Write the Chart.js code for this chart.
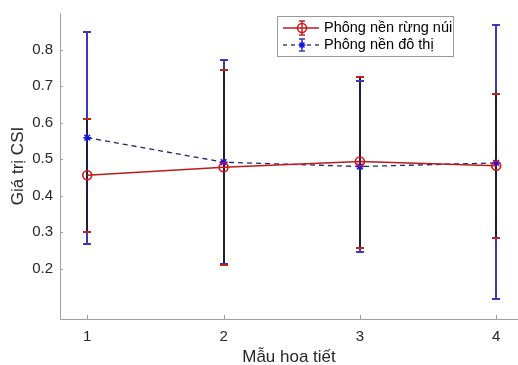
<!DOCTYPE html>
<html><head><meta charset="utf-8">
<script src="https://cdn.jsdelivr.net/npm/chart.js@4/dist/chart.umd.min.js"></script>
<style>html,body{margin:0;padding:0;background:#fff;}canvas{display:block}</style>
</head><body><canvas id="c" width="518" height="365"></canvas>
<script>
// ---- data ----
const categories = [1, 2, 3, 4];
const seriesNames = ['Phông nền rừng núi', 'Phông nền đô thị'];
const mountainMean = [0.456, 0.478, 0.494, 0.482];
const mountainLow  = [0.300, 0.212, 0.258, 0.284];
const mountainHigh = [0.611, 0.743, 0.726, 0.679];
const urbanMean = [0.559, 0.492, 0.480, 0.490];
const urbanLow  = [0.267, 0.213, 0.245, 0.119];
const urbanHigh = [0.848, 0.772, 0.714, 0.866];
const xTicks = [1, 2, 3, 4];
const yTicks = [0.2, 0.3, 0.4, 0.5, 0.6, 0.7, 0.8];
const xTitle = 'Mẫu hoa tiết';
const yTitle = 'Giá trị CSI';

// ---- styles ----
const FONT = "'Liberation Sans', Arial, Helvetica, sans-serif";
const RED_LINE = '#b81c1c', RED_MARK = '#e01010', RED_CAP = '#c42020';
const BLUE_LINE = '#24246e', BLUE_MARK = '#1414e0', BLUE_BAR = '#3a3ab4', DARK_BAR = '#1e1e3a';
const AXIS = '#a0a0a0', TXT = '#262626';
Chart.defaults.font.family = FONT;

const toPts = arr => categories.map((c, i) => ({x: c, y: arr[i]}));

const errorBars = {
  id: 'errorBars',
  beforeDatasetsDraw(chart) {
    const ctx = chart.ctx, xs = chart.scales.x, ys = chart.scales.y;
    ctx.save();
    ctx.lineWidth = 2;
    const vseg = (x, a, b, col) => {
      ctx.strokeStyle = col; ctx.beginPath();
      ctx.moveTo(x, ys.getPixelForValue(a)); ctx.lineTo(x, ys.getPixelForValue(b)); ctx.stroke();
    };
    const cap = (x, v, col) => {
      const y = Math.round(ys.getPixelForValue(v));
      ctx.strokeStyle = col; ctx.beginPath();
      ctx.moveTo(x - 4, y); ctx.lineTo(x + 4, y); ctx.stroke();
    };
    categories.forEach((c, i) => {
      const x = Math.round(xs.getPixelForValue(c));
      vseg(x, urbanLow[i], urbanHigh[i], BLUE_BAR);
      vseg(x, mountainLow[i], mountainHigh[i], DARK_BAR);
      cap(x, urbanLow[i], BLUE_BAR); cap(x, urbanHigh[i], BLUE_BAR);
      cap(x, mountainLow[i], RED_CAP); cap(x, mountainHigh[i], RED_CAP);
    });
    ctx.restore();
  }
};

const inwardTicks = {
  id: 'inwardTicks',
  afterDraw(chart) {
    const ctx = chart.ctx, xs = chart.scales.x, ys = chart.scales.y, a = chart.chartArea;
    ctx.save();
    ctx.strokeStyle = AXIS; ctx.lineWidth = 1;
    ys.ticks.forEach(t => {
      const y = Math.round(ys.getPixelForValue(t.value)) + 0.5;
      ctx.beginPath(); ctx.moveTo(a.left, y); ctx.lineTo(a.left + 3, y); ctx.stroke();
    });
    xs.ticks.forEach(t => {
      const x = Math.round(xs.getPixelForValue(t.value)) + 0.5;
      ctx.beginPath(); ctx.moveTo(x, a.bottom); ctx.lineTo(x, a.bottom - 4); ctx.stroke();
    });
    ctx.restore();
  }
};

const boxLegend = {
  id: 'boxLegend',
  afterDraw(chart) {
    const ctx = chart.ctx;
    const L = 277.5, T = 16.5, R = 453.5, B = 56.5;
    ctx.save();
    ctx.fillStyle = '#fff'; ctx.fillRect(L, T, R - L, B - T);
    ctx.strokeStyle = '#9a9a9a'; ctx.lineWidth = 1; ctx.strokeRect(L, T, R - L, B - T);
    const rows = [28, 45];
    const x0 = 283, x1 = 319, xm = 302;
    // row 1 red
    let y = rows[0];
    ctx.strokeStyle = RED_LINE; ctx.lineWidth = 1.5; ctx.setLineDash([]);
    ctx.beginPath(); ctx.moveTo(x0, y); ctx.lineTo(x1, y); ctx.stroke();
    ctx.strokeStyle = RED_CAP; ctx.lineWidth = 1.5;
    ctx.beginPath(); ctx.moveTo(xm, y - 7); ctx.lineTo(xm, y + 7);
    ctx.moveTo(xm - 3, y - 7); ctx.lineTo(xm + 3, y - 7);
    ctx.moveTo(xm - 3, y + 7); ctx.lineTo(xm + 3, y + 7); ctx.stroke();
    ctx.strokeStyle = RED_MARK; ctx.lineWidth = 1.5;
    ctx.beginPath(); ctx.arc(xm, y, 4.5, 0, Math.PI * 2); ctx.stroke();
    // row 2 blue
    y = rows[1];
    ctx.strokeStyle = BLUE_LINE; ctx.lineWidth = 1.3; ctx.setLineDash([4, 4]);
    ctx.beginPath(); ctx.moveTo(x0, y); ctx.lineTo(x1, y); ctx.stroke();
    ctx.setLineDash([]);
    ctx.strokeStyle = BLUE_BAR; ctx.lineWidth = 1.5;
    ctx.beginPath(); ctx.moveTo(xm, y - 6); ctx.lineTo(xm, y + 6);
    ctx.moveTo(xm - 3, y - 6); ctx.lineTo(xm + 3, y - 6);
    ctx.moveTo(xm - 3, y + 6); ctx.lineTo(xm + 3, y + 6); ctx.stroke();
    ctx.strokeStyle = BLUE_MARK; ctx.lineWidth = 1.3;
    ctx.beginPath();
    for (let k = 0; k < 4; k++) {
      const ang = k * Math.PI / 4;
      ctx.moveTo(xm - 3.5 * Math.cos(ang), y - 3.5 * Math.sin(ang));
      ctx.lineTo(xm + 3.5 * Math.cos(ang), y + 3.5 * Math.sin(ang));
    }
    ctx.stroke();
    // text
    ctx.fillStyle = '#000'; ctx.font = '14.5px ' + FONT; ctx.textBaseline = 'middle'; ctx.textAlign = 'left';
    ctx.fillText(chart.data.datasets[0].label, 324, rows[0]);
    ctx.fillText(chart.data.datasets[1].label, 324, rows[1]);
    ctx.restore();
  }
};

new Chart(document.getElementById('c'), {
  type: 'line',
  data: {
    datasets: [
      {
        label: seriesNames[0], data: toPts(mountainMean),
        borderColor: RED_LINE, borderWidth: 1.6,
        pointStyle: 'circle', pointRadius: 4.5, pointBorderWidth: 1.6,
        pointBorderColor: RED_MARK, pointBackgroundColor: 'rgba(0,0,0,0)', tension: 0, order: 1
      },
      {
        label: seriesNames[1], data: toPts(urbanMean),
        borderColor: BLUE_LINE, borderWidth: 1.3, borderDash: [5, 4],
        pointStyle: 'star', pointRadius: 4, pointBorderWidth: 1.5,
        pointBorderColor: BLUE_MARK, pointBackgroundColor: BLUE_MARK, tension: 0, order: 2
      }
    ]
  },
  options: {
    responsive: false, animation: false, devicePixelRatio: 1,
    layout: { autoPadding: false, padding: { top: 13, right: 0, left: 0, bottom: 0 } },
    plugins: { legend: { display: false }, tooltip: { enabled: false } },
    scales: {
      x: {
        type: 'linear', min: 0.8, max: 4.16,
        afterBuildTicks: s => { s.ticks = xTicks.map(v => ({ value: v })); },
        afterFit: s => { s.height = 46; s.paddingRight = 0; s.paddingLeft = 0; },
        grid: { display: false, drawTicks: false, tickLength: 0 },
        border: { display: true, color: AXIS, width: 1 },
        ticks: { color: TXT, font: { size: 15 }, padding: 9, maxRotation: 0, callback: v => String(v) },
        title: { display: true, text: xTitle, color: TXT, font: { size: 17 }, padding: { top: 0, bottom: -3 } }
      },
      y: {
        type: 'linear', min: 0.063, max: 0.9,
        afterBuildTicks: s => { s.ticks = yTicks.map(v => ({ value: v })); },
        afterFit: s => { s.width = 60; s.paddingTop = 0; s.paddingBottom = 0; },
        grid: { display: false, drawTicks: false, tickLength: 0 },
        border: { display: true, color: AXIS, width: 1 },
        ticks: { color: TXT, font: { size: 15 }, padding: 7, callback: v => v.toFixed(1) },
        title: { display: true, text: yTitle, color: TXT, font: { size: 17 }, padding: { top: 8, bottom: 0 } }
      }
    }
  },
  plugins: [errorBars, inwardTicks, boxLegend]
});
</script>
</body></html>
